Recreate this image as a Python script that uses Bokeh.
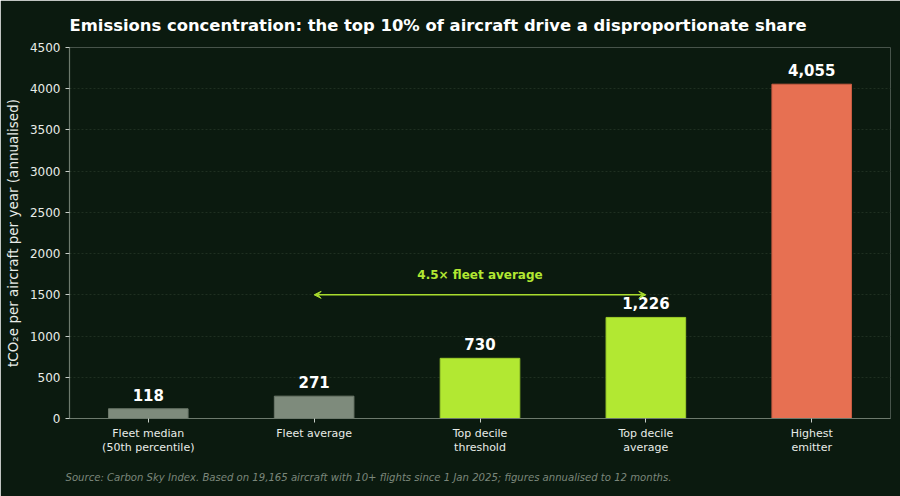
from bokeh.plotting import figure
from bokeh.models import (ColumnDataSource, FixedTicker, Label, LabelSet, Arrow,
                          VeeHead, Range1d, Title)
from bokeh.core.properties import value
from bokeh.embed import file_html
from bokeh.resources import INLINE

# Data
categories = ["Fleet median\n(50th percentile)", "Fleet average", "Top decile\nthreshold",
              "Top decile\naverage", "Highest\nemitter"]
values = [118, 271, 730, 1226, 4055]
value_labels = ["118", "271", "730", "1,226", "4,055"]
bar_colors = ["#7e8b7c", "#7e8b7c", "#b2e832", "#b2e832", "#e77052"]
bar_edges = ["#6c786a", "#6c786a", "#9ccc2a", "#9ccc2a", "#c85c42"]
y_ticks = [0, 500, 1000, 1500, 2000, 2500, 3000, 3500, 4000, 4500]
ratio_text = "4.5\u00d7 fleet average"
ratio_y = 1500
ratio_from, ratio_to = 1, 3

BG = "#0b1a0f"
FONT = "DejaVu Sans"
X_LO, X_HI, Y_HI = -0.475, 4.475, 4500

positions = list(range(len(categories)))
src = ColumnDataSource(dict(x=positions, top=values, color=bar_colors, edge=bar_edges,
                            label=value_labels))

p = figure(width=900, height=496, output_backend="svg", toolbar_location=None,
           x_range=Range1d(X_LO, X_HI), y_range=Range1d(0, Y_HI),
           min_border_left=69, min_border_right=10, min_border_top=47, min_border_bottom=78,
           background_fill_color=BG, border_fill_color=BG, outline_line_color=None)

p.vbar(x="x", top="top", width=0.48, fill_color="color", line_color="edge",
       line_width=1, source=src)

# value labels above bars
p.add_layout(LabelSet(x="x", y="top", text="label", source=src, y_offset=8,
                      text_align="center", text_baseline="bottom", text_color="#ffffff",
                      text_font=value(FONT), text_font_size="15px", text_font_style="bold"))

# ratio annotation arrow
p.add_layout(Arrow(x_start=ratio_from, y_start=ratio_y, x_end=ratio_to, y_end=ratio_y,
                   line_color="#a9dc2e", line_width=1.5,
                   start=VeeHead(size=7, line_color="#a9dc2e", fill_color="#a9dc2e", line_width=1),
                   end=VeeHead(size=7, line_color="#a9dc2e", fill_color="#a9dc2e", line_width=1)))
p.add_layout(Label(x=(ratio_from + ratio_to) / 2, y=ratio_y, y_offset=20, text=ratio_text,
                   text_align="center", text_baseline="middle", text_color="#b2e832",
                   text_font=FONT, text_font_size="12px", text_font_style="bold"))

# axes
p.xaxis.ticker = FixedTicker(ticks=positions)
p.xaxis.major_label_overrides = {i: c for i, c in enumerate(categories)}
p.yaxis.ticker = FixedTicker(ticks=y_ticks)
p.yaxis.axis_label = "tCO\u2082e per aircraft per year (annualised)"
for ax in (p.xaxis, p.yaxis):
    ax.axis_line_color = "#6d7a6d"
    ax.axis_line_width = 1.2
    ax.major_tick_line_color = "#c8cfc8"
    ax.major_tick_out = 4
    ax.major_tick_in = 0
    ax.minor_tick_line_color = None
    ax.major_label_text_color = "#e8ece8"
    ax.major_label_text_font = FONT
p.xaxis.major_label_text_font_size = "11px"
p.xaxis.major_label_text_line_height = 1.1
p.yaxis.major_label_text_font_size = "12px"
p.yaxis.axis_label_text_font = FONT
p.yaxis.axis_label_text_font_size = "13.5px"
p.yaxis.axis_label_text_font_style = "normal"
p.yaxis.axis_label_text_color = "#e8ece8"
p.yaxis.axis_label_standoff = 6
p.xaxis.major_label_standoff = 4

p.xgrid.grid_line_color = None
p.ygrid.grid_line_color = "#1f2f21"
p.ygrid.grid_line_dash = "2 2"
p.ygrid.grid_line_width = 1

# title and source note
p.title = Title(text="Emissions concentration: the top 10% of aircraft drive a disproportionate share",
                align="left", offset=0, standoff=26, text_color="#ffffff", text_font=FONT,
                text_font_size="16.4px", text_font_style="bold")
p.add_layout(Title(text="Source: Carbon Sky Index. Based on 19,165 aircraft with 10+ flights since 1 Jan 2025; figures annualised to 12 months.",
                   align="left", offset=-4, standoff=27, text_color="#7b877b", text_font=FONT,
                   text_font_size="10.1px", text_font_style="italic"), "below")

open("out.html", "w").write(file_html(p, INLINE))
